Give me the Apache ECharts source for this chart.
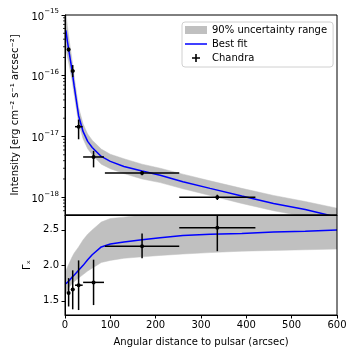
<!DOCTYPE html>
<html>
<head>
<meta charset="utf-8">
<script src="https://cdn.jsdelivr.net/npm/echarts@6/dist/echarts.min.js"></script>
<style>
  html, body { margin: 0; padding: 0; background: #fff; }
  #chart { width: 357px; height: 357px; }
</style>
</head>
<body>
<div id="chart"></div>
<script>
// model curves, sampled along the distance axis (arcsec)
var fitX = [2, 5, 10, 15, 20, 30, 40, 50, 60, 80, 100, 130, 170, 210, 260, 320, 390, 460, 530, 600];
var fitIntensity = [5.6e-16, 3.8e-16, 2.2e-16, 1.3e-16, 7.0e-17, 2.2e-17, 1.2e-17, 8.3e-18, 6.6e-18, 4.7e-18,
                    3.9e-18, 3.2e-18, 2.7e-18, 2.3e-18, 1.8e-18, 1.4e-18, 1.05e-18, 7.9e-19, 6.3e-19, 4.7e-19];
var bandIntensityHi = [1.1e-15, 6.8e-16, 3.5e-16, 1.95e-16, 1.0e-16, 3.0e-17, 1.6e-17, 1.1e-17, 8.7e-18, 6.2e-18,
                       5.1e-18, 4.3e-18, 3.5e-18, 3.0e-18, 2.4e-18, 1.86e-18, 1.4e-18, 1.07e-18, 8.5e-19, 6.6e-19];
var bandIntensityLo = [2.8e-16, 2.1e-16, 1.4e-16, 8.9e-17, 5.0e-17, 1.66e-17, 9.1e-18, 6.3e-18, 5.0e-18, 3.5e-18,
                       2.95e-18, 2.45e-18, 2.0e-18, 1.74e-18, 1.38e-18, 1.07e-18, 7.9e-19, 6.0e-19, 4.8e-19, 3.5e-19];
var fitGamma = [1.74, 1.75, 1.79, 1.83, 1.86, 1.93, 2.00, 2.08, 2.15, 2.26,
                2.30, 2.33, 2.36, 2.39, 2.42, 2.44, 2.45, 2.47, 2.48, 2.50];
var bandGammaHi = [1.92, 1.97, 2.04, 2.11, 2.17, 2.26, 2.36, 2.44, 2.50, 2.61,
                   2.66, 2.68, 2.71, 2.74, 2.77, 2.80, 2.83, 2.85, 2.87, 2.88];
var bandGammaLo = [1.60, 1.64, 1.70, 1.74, 1.77, 1.82, 1.87, 1.92, 1.96, 2.04,
                   2.07, 2.10, 2.12, 2.14, 2.16, 2.18, 2.20, 2.21, 2.22, 2.23];

// Chandra measurements
var obsX   = [8, 17, 30, 63, 170, 336];
var obsXLo = [5, 13, 22, 40, 88, 252];
var obsXHi = [11, 21, 39, 86, 252, 420];
var obsIntensity   = [2.7e-16, 1.2e-16, 1.45e-17, 4.6e-18, 2.5e-18, 1.0e-18];
var obsIntensityLo = [2.5e-16, 0.95e-16, 0.9e-17, 3.1e-18, 2.3e-18, 0.9e-18];
var obsIntensityHi = [2.9e-16, 1.5e-16, 1.9e-17, 5.8e-18, 2.7e-18, 1.1e-18];
var obsGamma   = [1.61, 1.66, 1.72, 1.76, 2.27, 2.53];
var obsGammaLo = [1.42, 1.38, 1.37, 1.44, 2.10, 2.20];
var obsGammaHi = [1.82, 1.93, 2.07, 2.08, 2.45, 2.71];

// axis ticks
var xTicks = [0, 100, 200, 300, 400, 500, 600];
var intensityDecades = [-18, -17, -16, -15];
var gammaTicks = [1.5, 2.0, 2.5];

var lg = Math.log10;
var iMin = lg(5.1e-19), iMax = -15, gMin = 1.3, gMax = 2.71;
var minorTicks = [];
[-19, -18, -17, -16].forEach(function (d) {
    for (var k = 2; k <= 9; k++) {
        var v = d + lg(k);
        if (v > iMin) minorTicks.push(v);
    }
});

// band: upper edge filled grey down to the axis floor, then lower edge filled white
function bandSeries(name, gridIdx, yIdx, hi, lo, fn) {
    return [
        { name: name, type: 'line', xAxisIndex: gridIdx, yAxisIndex: yIdx,
          symbol: 'none',
          data: fitX.map(function (x, i) { return [x, fn(hi[i])]; }),
          lineStyle: { color: '#c0c0c0', width: 0.5 },
          itemStyle: { color: '#c0c0c0' },
          areaStyle: { color: '#c0c0c0', opacity: 1, origin: 'start' } },
        { name: 'lower-' + gridIdx, type: 'line', xAxisIndex: gridIdx, yAxisIndex: yIdx,
          symbol: 'none',
          data: fitX.map(function (x, i) { return [x, fn(lo[i])]; }),
          lineStyle: { color: '#c0c0c0', width: 0.5 },
          areaStyle: { color: '#ffffff', opacity: 1, origin: 'start' } }
    ];
}

function errSeries(gridIdx, yIdx, ys, ylo, yhi, fn) {
    var d = obsX.map(function (x, i) {
        return [x, fn(ys[i]), obsXLo[i], obsXHi[i], fn(ylo[i]), fn(yhi[i])];
    });
    return {
        name: 'Chandra', type: 'custom', xAxisIndex: gridIdx, yAxisIndex: yIdx,
        data: d, z: 5, itemStyle: { color: '#000' },
        renderItem: function (params, api) {
            var c = api.coord([api.value(0), api.value(1)]);
            var l = api.coord([api.value(2), api.value(1)]);
            var r = api.coord([api.value(3), api.value(1)]);
            var b = api.coord([api.value(0), api.value(4)]);
            var t = api.coord([api.value(0), api.value(5)]);
            var st = { stroke: '#000', lineWidth: 1.5 };
            return {
                type: 'group',
                children: [
                    { type: 'line', shape: { x1: l[0], y1: l[1], x2: r[0], y2: r[1] }, style: st },
                    { type: 'line', shape: { x1: b[0], y1: b[1], x2: t[0], y2: t[1] }, style: st },
                    { type: 'circle', shape: { cx: c[0], cy: c[1], r: 2 }, style: { fill: '#000' } }
                ]
            };
        }
    };
}

function fitSeries(gridIdx, yIdx, vals, fn) {
    return {
        name: 'Best fit', type: 'line', xAxisIndex: gridIdx, yAxisIndex: yIdx,
        data: fitX.map(function (x, i) { return [x, fn(vals[i])]; }),
        symbol: 'none', showSymbol: false, z: 3,
        lineStyle: { color: '#0000ff', width: 1.5 },
        itemStyle: { color: '#0000ff' }
    };
}

// panel frame (top/right spines)
function frameSeries(gridIdx, yIdx, mid) {
    return {
        name: 'frame-' + gridIdx, type: 'custom', xAxisIndex: gridIdx, yAxisIndex: yIdx,
        data: [[300, mid]], z: 6, silent: true,
        renderItem: function (params) {
            var cs = params.coordSys;
            return { type: 'rect', shape: { x: cs.x, y: cs.y, width: cs.width, height: cs.height },
                     style: { fill: 'none', stroke: '#000', lineWidth: 1 } };
        }
    };
}

// minor log ticks on the intensity axis
var minorTickSeries = {
    name: 'minor-ticks', type: 'custom', xAxisIndex: 0, yAxisIndex: 0,
    data: minorTicks.map(function (v) { return [0, v]; }), z: 6, silent: true,
    renderItem: function (params, api) {
        var p = api.coord([0, api.value(1)]);
        return { type: 'line', shape: { x1: p[0] - 2, y1: p[1], x2: p[0], y2: p[1] },
                 style: { stroke: '#000', lineWidth: 0.8 } };
    }
};

var ident = function (v) { return v; };
var font = 'DejaVu Sans';
var axisLine = { show: true, lineStyle: { color: '#000', width: 1 } };

var chart = echarts.init(document.getElementById('chart'));
chart.setOption({
    animation: false,
    textStyle: { fontFamily: font, color: '#000' },
    grid: [
        { left: 65, top: 15, width: 272, height: 200 },
        { left: 65, top: 215, width: 272, height: 100 }
    ],
    legend: {
        orient: 'vertical', left: 182, top: 22, z: 10,
        padding: [3, 6, 4, 3], itemGap: 4, itemWidth: 22, itemHeight: 8,
        backgroundColor: '#fff', borderColor: '#d0d0d0', borderWidth: 1, borderRadius: 3,
        textStyle: { fontFamily: font, fontSize: 10, color: '#000' },
        selectedMode: false,
        data: [
            { name: '90% uncertainty range', icon: 'rect' },
            { name: 'Best fit', icon: 'path://M0,0H22V1.5H0Z' },
            { name: 'Chandra', icon: 'path://M4,0H6V4H10V6H6V10H4V6H0V4H4Z' }
        ]
    },
    xAxis: [
        { gridIndex: 0, type: 'value', min: 0, max: 600, interval: 100, z: 8,
          axisLine: axisLine, axisTick: { show: false }, axisLabel: { show: false }, splitLine: { show: false } },
        { gridIndex: 1, type: 'value', min: 0, max: 600, interval: 100, z: 8,
          axisLine: axisLine,
          axisTick: { show: true, inside: false, length: 3.5, lineStyle: { color: '#000' } },
          axisLabel: { fontSize: 10, color: '#000', margin: 5, fontFamily: font,
                       customValues: xTicks },
          splitLine: { show: false },
          name: 'Angular distance to pulsar (arcsec)', nameLocation: 'middle', nameGap: 22,
          nameTextStyle: { fontSize: 10, color: '#000', fontFamily: font } }
    ],
    yAxis: [
        { gridIndex: 0, type: 'value', min: iMin, max: iMax, z: 8,
          axisLine: axisLine,
          axisTick: { show: true, length: 3.5, customValues: intensityDecades, lineStyle: { color: '#000' } },
          axisLabel: {
              customValues: intensityDecades, margin: 6,
              formatter: function (v) { return '{b|10}{s|\u2212' + Math.round(-v) + '}'; },
              rich: {
                  b: { fontSize: 10, fontFamily: font, color: '#000', lineHeight: 14, verticalAlign: 'bottom' },
                  s: { fontSize: 7, fontFamily: font, color: '#000', lineHeight: 14, verticalAlign: 'top' }
              }
          },
          splitLine: { show: false },
          name: 'Intensity [erg cm\u207B\u00B2 s\u207B\u00B9 arcsec\u207B\u00B2]',
          nameLocation: 'middle', nameGap: 37,
          nameTextStyle: { fontSize: 10, color: '#000', fontFamily: font } },
        { gridIndex: 1, type: 'value', min: gMin, max: gMax, z: 8,
          axisLine: axisLine,
          axisTick: { show: true, length: 3.5, customValues: gammaTicks, lineStyle: { color: '#000' } },
          axisLabel: { customValues: gammaTicks, fontSize: 10, color: '#000', margin: 6, fontFamily: font,
                       formatter: function (v) { return v.toFixed(1); } },
          splitLine: { show: false },
          name: '\u0393\u2093', nameLocation: 'middle', nameGap: 28,
          nameTextStyle: { fontSize: 10, color: '#000', fontFamily: font } }
    ],
    series: [].concat(
        bandSeries('90% uncertainty range', 0, 0, bandIntensityHi, bandIntensityLo, lg),
        bandSeries('90% uncertainty range', 1, 1, bandGammaHi, bandGammaLo, ident),
        [
            fitSeries(0, 0, fitIntensity, lg),
            fitSeries(1, 1, fitGamma, ident),
            errSeries(0, 0, obsIntensity, obsIntensityLo, obsIntensityHi, lg),
            errSeries(1, 1, obsGamma, obsGammaLo, obsGammaHi, ident),
            frameSeries(0, 0, -17),
            frameSeries(1, 1, 2),
            minorTickSeries
        ]
    )
});
</script>
</body>
</html>
